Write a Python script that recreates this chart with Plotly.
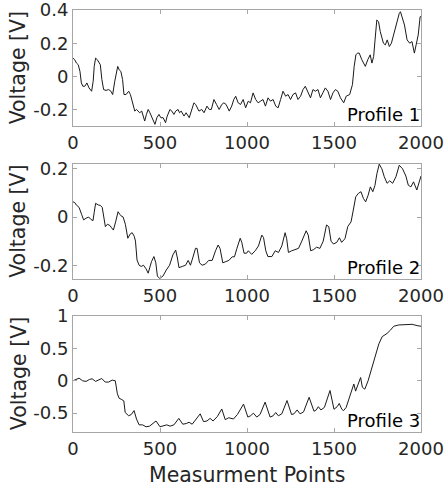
import plotly.graph_objects as go
from plotly.subplots import make_subplots

# ---------------- data ----------------
p1_x = [0, 10, 20, 30, 40, 48, 57, 68, 80, 92, 107, 116, 122, 130, 140, 150, 157, 166, 176, 190,
        205, 218, 228, 240, 250, 257, 265, 275, 285, 293, 305, 320, 330, 344, 355, 365, 383, 395,
        405, 412, 422, 432, 442, 455, 471, 482, 494, 505, 518, 532, 540, 557, 568, 580, 590, 604,
        612, 622, 638, 650, 668, 680, 695, 705, 724, 740, 753, 770, 783, 795, 810, 825, 840, 855,
        867, 880, 898, 912, 924, 935, 949, 963, 978, 992, 1007, 1020, 1035, 1050, 1064, 1078, 1092,
        1106, 1121, 1135, 1150, 1165, 1179, 1193, 1207, 1222, 1236, 1250, 1264, 1279, 1293, 1308,
        1322, 1335, 1350, 1365, 1379, 1393, 1408, 1422, 1436, 1450, 1465, 1480, 1494, 1508, 1522,
        1537, 1556, 1570, 1590, 1606, 1616, 1626, 1635, 1645, 1660, 1680, 1694, 1708, 1718, 1728,
        1736, 1746, 1756, 1766, 1784, 1795, 1806, 1818, 1830, 1845, 1860, 1875, 1882, 1892, 1905,
        1920, 1935, 1948, 1962, 1972, 1984, 1995, 2000]
p1_y = [0.11, 0.10, 0.08, 0.07, 0.03, -0.04, -0.06, -0.06, -0.04, -0.07, -0.09, -0.03, 0.06, 0.11,
        0.10, 0.08, 0.07, -0.02, -0.08, -0.085, -0.08, -0.09, -0.11, -0.03, 0.04, 0.06, 0.04, 0.03,
        -0.02, -0.11, -0.11, -0.09, -0.11, -0.17, -0.21, -0.20, -0.22, -0.21, -0.24, -0.27, -0.23,
        -0.20, -0.22, -0.25, -0.29, -0.25, -0.23, -0.25, -0.25, -0.28, -0.245, -0.20, -0.21, -0.23,
        -0.21, -0.20, -0.22, -0.21, -0.24, -0.22, -0.25, -0.21, -0.16, -0.17, -0.21, -0.20, -0.22,
        -0.18, -0.20, -0.20, -0.14, -0.17, -0.20, -0.17, -0.16, -0.17, -0.21, -0.18, -0.14, -0.12,
        -0.16, -0.17, -0.14, -0.19, -0.15, -0.16, -0.10, -0.14, -0.16, -0.15, -0.14, -0.18, -0.13,
        -0.15, -0.14, -0.18, -0.19, -0.14, -0.09, -0.12, -0.11, -0.14, -0.11, -0.10, -0.14, -0.12,
        -0.08, -0.06, -0.10, -0.13, -0.08, -0.09, -0.08, -0.13, -0.10, -0.07, -0.09, -0.14, -0.10,
        -0.08, -0.09, -0.13, -0.16, -0.12, -0.11, -0.05, 0.06, 0.13, 0.14, 0.14, 0.10, 0.06, 0.10,
        0.13, 0.08, 0.12, 0.22, 0.34, 0.33, 0.27, 0.20, 0.19, 0.22, 0.18, 0.20, 0.26, 0.33, 0.38,
        0.39, 0.36, 0.31, 0.22, 0.20, 0.21, 0.14, 0.19, 0.25, 0.36, 0.36]

p2_x = [0, 10, 19, 35, 50, 61, 75, 90, 103, 115, 122, 130, 145, 158, 168, 178, 186, 198, 212, 222,
        232, 245, 259, 268, 276, 288, 301, 315, 329, 340, 352, 359, 368, 380, 392, 405, 420, 432,
        442, 451, 465, 476, 485, 498, 508, 517, 536, 555, 574, 590, 600, 609, 628, 647, 662, 675,
        688, 704, 713, 727, 742, 761, 780, 800, 819, 834, 845, 861, 878, 896, 915, 928, 942, 961,
        970, 983, 998, 1008, 1027, 1047, 1066, 1085, 1095, 1108, 1120, 1143, 1162, 1181, 1200,
        1219, 1228, 1238, 1257, 1277, 1296, 1315, 1340, 1352, 1366, 1383, 1400, 1419, 1438, 1457,
        1470, 1483, 1497, 1516, 1531, 1544, 1563, 1579, 1598, 1611, 1625, 1640, 1655, 1669, 1682,
        1696, 1709, 1723, 1735, 1747, 1760, 1775, 1789, 1805, 1820, 1837, 1856, 1875, 1894, 1913,
        1927, 1942, 1957, 1976, 1990, 2000]
p2_y = [0.063, 0.06, 0.05, 0.04, 0.01, -0.012, -0.005, 0.0, -0.01, -0.015, 0.02, 0.057, 0.05,
        0.048, 0.04, 0.0, -0.04, -0.03, -0.035, -0.045, -0.054, -0.02, 0.022, 0.012, 0.005, 0.0,
        -0.03, -0.088, -0.07, -0.065, -0.08, -0.1, -0.178, -0.2, -0.205, -0.2, -0.215, -0.233,
        -0.21, -0.185, -0.164, -0.19, -0.245, -0.255, -0.25, -0.245, -0.22, -0.2, -0.157, -0.137,
        -0.17, -0.21, -0.205, -0.2, -0.18, -0.2, -0.17, -0.13, -0.13, -0.19, -0.2, -0.195, -0.18,
        -0.18, -0.14, -0.116, -0.13, -0.19, -0.185, -0.18, -0.165, -0.165, -0.13, -0.088, -0.105,
        -0.15, -0.15, -0.14, -0.155, -0.14, -0.12, -0.075, -0.085, -0.14, -0.164, -0.164, -0.14,
        -0.147, -0.12, -0.065, -0.09, -0.147, -0.14, -0.136, -0.13, -0.1, -0.057, -0.075, -0.14,
        -0.135, -0.125, -0.13, -0.1, -0.033, -0.04, -0.1, -0.112, -0.105, -0.086, -0.105, -0.09,
        -0.04, -0.02, 0.029, 0.084, 0.098, 0.105, 0.077, 0.063, 0.09, 0.125, 0.105, 0.13, 0.181,
        0.219, 0.2, 0.167, 0.14, 0.15, 0.14, 0.167, 0.215, 0.2, 0.17, 0.132, 0.125, 0.146, 0.112,
        0.153, 0.17]

p3_x = [0, 20, 35, 55, 75, 95, 110, 130, 150, 165, 185, 205, 225, 243, 255, 265, 280, 292, 300,
        320, 335, 351, 365, 380, 400, 420, 440, 460, 477, 500, 520, 539, 558, 580, 608, 631, 650,
        667, 685, 706, 731, 750, 770, 788, 805, 830, 855, 875, 895, 922, 945, 980, 1005, 1020,
        1037, 1056, 1075, 1104, 1133, 1150, 1165, 1180, 1200, 1230, 1256, 1270, 1288, 1305, 1325,
        1357, 1385, 1398, 1410, 1425, 1445, 1477, 1500, 1518, 1530, 1545, 1555, 1570, 1588, 1605,
        1614, 1624, 1640, 1653, 1663, 1677, 1696, 1719, 1738, 1758, 1777, 1805, 1824, 1843, 1872,
        1910, 1949, 1978, 2000]
p3_y = [0.0, 0.02, 0.04, 0.0, -0.01, 0.02, 0.03, -0.01, 0.02, 0.035, -0.02, -0.02, 0.01, 0.0,
        -0.2, -0.27, -0.29, -0.31, -0.49, -0.54, -0.52, -0.46, -0.59, -0.68, -0.68, -0.71, -0.70,
        -0.66, -0.62, -0.71, -0.69, -0.68, -0.70, -0.68, -0.58, -0.67, -0.66, -0.64, -0.67, -0.60,
        -0.51, -0.63, -0.62, -0.58, -0.62, -0.55, -0.435, -0.60, -0.57, -0.59, -0.52, -0.36, -0.56,
        -0.54, -0.50, -0.56, -0.52, -0.33, -0.56, -0.54, -0.49, -0.54, -0.51, -0.305, -0.52, -0.51,
        -0.45, -0.51, -0.48, -0.255, -0.47, -0.45, -0.40, -0.45, -0.41, -0.15, -0.44, -0.40, -0.35,
        -0.44, -0.46, -0.41, -0.25, -0.12, -0.05, -0.16, -0.05, 0.05, -0.10, -0.13, 0.0, 0.21,
        0.41, 0.57, 0.68, 0.73, 0.78, 0.84, 0.86, 0.87, 0.87, 0.85, 0.84]

x_ticks = [0, 500, 1000, 1500, 2000]
x_tick_text = ["0", "500", "1000", "1500", "2000"]
y1_ticks = [-0.2, 0, 0.2, 0.4]
y1_tick_text = ["-0.2", "0", "0.2", "0.4"]
y2_ticks = [-0.2, 0, 0.2]
y2_tick_text = ["-0.2", "0", "0.2"]
y3_ticks = [-0.5, 0, 0.5, 1]
y3_tick_text = ["-0.5", "0", "0.5", "1"]
labels = ["Profile 1", "Profile 2", "Profile 3"]
y_title = "Voltage [V]"
x_title = "Measurment Points"

# ---------------- figure ----------------
FONT = "DejaVu Sans"
TXT = "#262626"
FRAME = "#a6a6a6"

fig = make_subplots(rows=3, cols=1)
series = [(p1_x, p1_y), (p2_x, p2_y), (p3_x, p3_y)]
for i, (xs, ys) in enumerate(series, start=1):
    fig.add_trace(go.Scatter(x=xs, y=ys, mode="lines",
                             line=dict(color="#1a1a1a", width=1), showlegend=False),
                  row=i, col=1)

domains = [[0.7251, 1.0], [0.3626, 0.6351], [0.0, 0.2756]]
yranges = [[-0.30, 0.4005], [-0.257, 0.22], [-0.79, 1.003]]
yticks = [(y1_ticks, y1_tick_text), (y2_ticks, y2_tick_text), (y3_ticks, y3_tick_text)]

axis_common = dict(showline=True, linecolor=FRAME, linewidth=1, mirror="ticks",
                   ticks="inside", ticklen=4, tickcolor=FRAME, tickwidth=1,
                   showgrid=False, zeroline=False, automargin=False,
                   ticklabeloverflow="allow",
                   tickfont=dict(family=FONT, size=18, color=TXT))

for i in range(3):
    sfx = "" if i == 0 else str(i + 1)
    fig.layout["xaxis" + sfx].update(range=[0, 2000], tickvals=x_ticks, ticktext=x_tick_text,
                                     **axis_common)
    fig.layout["yaxis" + sfx].update(domain=domains[i], range=yranges[i],
                                     tickvals=yticks[i][0], ticktext=yticks[i][1],
                                     **axis_common)
    # y-axis title
    fig.add_annotation(text=y_title, textangle=-90, xref="paper",
                       yref=f"y{sfx} domain", x=-0.157, y=0.5,
                       xanchor="center", yanchor="middle", showarrow=False,
                       font=dict(family=FONT, size=20.5, color=TXT))
    # profile label
    fig.add_annotation(text=labels[i], xref=f"x{sfx} domain", yref=f"y{sfx} domain",
                       x=1.0, y=0.0, xanchor="right", yanchor="bottom", showarrow=False,
                       xshift=1, yshift=-1,
                       font=dict(family=FONT, size=18, color="black"))

# x-axis title
fig.add_annotation(text=x_title, xref="paper", yref="paper", x=0.5, y=-0.102,
                   xanchor="center", yanchor="middle", showarrow=False,
                   font=dict(family=FONT, size=20.5, color=TXT))

fig.update_layout(width=444, height=487,
                  margin=dict(l=73, r=23, t=10, b=55, autoexpand=False),
                  paper_bgcolor="white", plot_bgcolor="white",
                  font=dict(family=FONT, color=TXT))

fig.write_html("out.html")
